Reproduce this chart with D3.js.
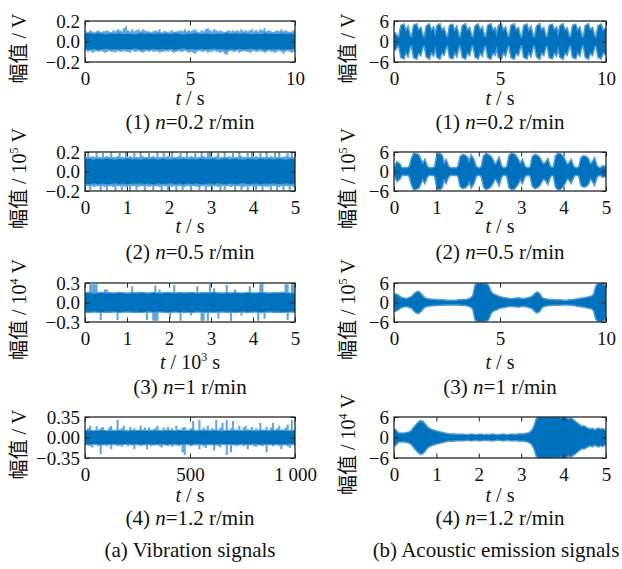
<!DOCTYPE html>
<html><head><meta charset="utf-8">
<script src="https://cdn.jsdelivr.net/npm/d3@7"></script>
<style>
body{margin:0;background:#fff}
svg{display:block}
text{font-family:"Liberation Serif","Times New Roman","Noto Sans CJK SC",serif;fill:#111}
</style>
</head><body>
<svg id="c" width="622" height="569"></svg>
<script>
// ---------- tick labels ----------
const ticks10 = [0, 5, 10];
const ticks10Labels = ["0", "5", "10"];
const ticks5 = [0, 1, 2, 3, 4, 5];
const ticks5Labels = ["0", "1", "2", "3", "4", "5"];
const ticks1000 = [0, 500, 1000];
const ticks1000Labels = ["0", "500", "1 000"];
const yTicks02 = [-0.2, 0, 0.2];
const yTicks02Labels = ["\u22120.2", "0.0", "0.2"];
const yTicks03 = [-0.3, 0, 0.3];
const yTicks03Labels = ["\u22120.3", "0.0", "0.3"];
const yTicks035 = [-0.35, 0, 0.35];
const yTicks035Labels = ["\u22120.35", "0.00", "0.35"];
const yTicks6 = [-6, 0, 6];
const yTicks6Labels = ["\u22126", "0", "6"];

// ---------- captions ----------
const speeds = ["0.2", "0.5", "1", "1.2"];
const groupTitles = ["(a) Vibration signals", "(b) Acoustic emission signals"];

// ---------- vibration signals: spike extents (hi / lo) and dense core amplitude ----------
const vib1Hi = [0.10,0.09,0.11,0.10,0.09,0.10,0.11,0.09,0.10,0.10, 0.11,0.10,0.09,0.11,0.10,0.12,0.11,0.10,0.13,0.15, 0.11,0.10,0.12,0.10,0.11,0.12,0.10,0.12,0.11,0.10, 0.10,0.09,0.10,0.11,0.10,0.12,0.09,0.10,0.10,0.09, 0.10,0.11,0.09,0.10,0.10,0.11,0.10,0.12,0.10,0.11, 0.10,0.11,0.12,0.10,0.09,0.11,0.10,0.12,0.13,0.11, 0.10,0.12,0.11,0.10,0.11,0.10,0.09,0.10,0.11,0.10, 0.11,0.10,0.11,0.10,0.12,0.10,0.11,0.10,0.11,0.12, 0.10,0.11,0.10,0.12,0.11,0.13,0.10,0.11,0.10,0.09, 0.10,0.11,0.10,0.12,0.10,0.11,0.10,0.09,0.10,0.11];
const vib1Lo = [-0.09,-0.10,-0.09,-0.11,-0.10,-0.09,-0.10,-0.09,-0.10,-0.11, -0.10,-0.09,-0.10,-0.10,-0.11,-0.09,-0.10,-0.10,-0.09,-0.10, -0.10,-0.11,-0.09,-0.10,-0.10,-0.09,-0.10,-0.11,-0.10,-0.09, -0.10,-0.09,-0.10,-0.10,-0.09,-0.11,-0.10,-0.10,-0.09,-0.10, -0.09,-0.10,-0.11,-0.10,-0.09,-0.10,-0.10,-0.09,-0.10,-0.11, -0.10,-0.11,-0.12,-0.10,-0.09,-0.10,-0.10,-0.09,-0.11,-0.10, -0.10,-0.09,-0.10,-0.10,-0.11,-0.10,-0.12,-0.13,-0.10,-0.09, -0.10,-0.10,-0.09,-0.11,-0.10,-0.09,-0.10,-0.10,-0.11,-0.10, -0.09,-0.10,-0.10,-0.09,-0.10,-0.11,-0.10,-0.09,-0.10,-0.10, -0.11,-0.10,-0.09,-0.10,-0.12,-0.10,-0.09,-0.10,-0.11,-0.10];
const vib1Core = [0.072,0.078,0.070,0.080,0.074,0.068,0.076,0.072,0.079,0.071, 0.075,0.070,0.068,0.080,0.073,0.077,0.071,0.079,0.072,0.076, 0.070,0.080,0.073,0.067,0.076,0.072,0.079,0.070,0.075,0.073, 0.068,0.076,0.071,0.080,0.072,0.077,0.070,0.079,0.073,0.068, 0.076,0.071,0.080,0.072,0.075,0.070,0.079,0.073,0.076,0.071];

const vib2Hi = [0.15,0.19,0.15,0.16,0.15,0.2,0.15,0.15,0.19,0.15, 0.16,0.15,0.2,0.15,0.15,0.16,0.19,0.15,0.15,0.2, 0.15,0.16,0.15,0.19,0.15,0.15,0.2,0.16,0.15,0.15, 0.19,0.15,0.16,0.15,0.2,0.15,0.15,0.19,0.15,0.16, 0.15,0.2,0.15,0.15,0.16,0.19,0.15,0.15,0.2,0.15, 0.16,0.15,0.19,0.15,0.15,0.2,0.16,0.15,0.19,0.2, 0.15,0.15,0.16,0.19,0.15,0.15,0.2,0.15,0.16,0.15, 0.19,0.15,0.15,0.2,0.16,0.15,0.15,0.19,0.15,0.2, 0.15,0.16,0.15,0.19,0.15,0.15,0.2,0.15,0.16,0.15, 0.19,0.15,0.2,0.15,0.15,0.16,0.19,0.15,0.2,0.15];
const vib2Lo = [-0.15,-0.15,-0.19,-0.15,-0.16,-0.15,-0.15,-0.2,-0.15,-0.16, -0.19,-0.15,-0.15,-0.16,-0.2,-0.15,-0.15,-0.19,-0.15,-0.16, -0.15,-0.2,-0.15,-0.15,-0.19,-0.16,-0.15,-0.15,-0.2,-0.15, -0.16,-0.15,-0.19,-0.15,-0.15,-0.16,-0.2,-0.15,-0.15,-0.19, -0.15,-0.16,-0.15,-0.2,-0.15,-0.15,-0.19,-0.16,-0.15,-0.15, -0.2,-0.15,-0.15,-0.16,-0.19,-0.15,-0.15,-0.2,-0.16,-0.15, -0.19,-0.15,-0.15,-0.16,-0.2,-0.15,-0.19,-0.15,-0.15,-0.16, -0.15,-0.2,-0.15,-0.15,-0.19,-0.16,-0.15,-0.2,-0.15,-0.15, -0.16,-0.19,-0.15,-0.15,-0.2,-0.15,-0.16,-0.15,-0.19,-0.15, -0.15,-0.2,-0.16,-0.15,-0.19,-0.15,-0.15,-0.2,-0.15,-0.16];
const vib2Core = [0.125,0.130,0.120,0.128,0.122,0.130,0.125,0.120,0.128,0.124, 0.130,0.122,0.126,0.120,0.129,0.124,0.130,0.121,0.127,0.125, 0.120,0.129,0.124,0.130,0.122,0.127,0.121,0.130,0.125,0.123, 0.128,0.120,0.126,0.130,0.122,0.128,0.124,0.120,0.129,0.125, 0.122,0.130,0.124,0.127,0.121,0.129,0.125,0.120,0.128,0.124];

const vib3Hi = [0.15,0.15,0.28,0.28,0.28,0.28,0.15,0.15,0.15,0.2, 0.2,0.15,0.15,0.15,0.15,0.15,0.15,0.15,0.15,0.15, 0.15,0.15,0.25,0.15,0.15,0.15,0.15,0.15,0.15,0.15, 0.15,0.15,0.15,0.26,0.15,0.2,0.15,0.15,0.15,0.15, 0.15,0.15,0.27,0.15,0.15,0.15,0.15,0.15,0.15,0.15, 0.15,0.15,0.15,0.25,0.15,0.15,0.15,0.15,0.15,0.28, 0.15,0.22,0.15,0.15,0.15,0.15,0.15,0.27,0.15,0.15, 0.15,0.2,0.15,0.15,0.15,0.15,0.15,0.15,0.25,0.15, 0.15,0.15,0.15,0.28,0.3,0.15,0.15,0.15,0.15,0.15, 0.15,0.15,0.15,0.15,0.15,0.28,0.28,0.15,0.28,0.28];
const vib3Lo = [-0.15,-0.15,-0.15,-0.15,-0.15,-0.15,-0.15,-0.27,-0.15,-0.15, -0.15,-0.15,-0.15,-0.15,-0.15,-0.27,-0.15,-0.15,-0.15,-0.15, -0.15,-0.15,-0.15,-0.15,-0.15,-0.15,-0.15,-0.15,-0.15,-0.27, -0.15,-0.15,-0.28,-0.28,-0.28,-0.15,-0.15,-0.15,-0.15,-0.15, -0.25,-0.15,-0.15,-0.15,-0.15,-0.28,-0.15,-0.15,-0.15,-0.15, -0.2,-0.15,-0.15,-0.15,-0.15,-0.28,-0.28,-0.15,-0.28,-0.15, -0.15,-0.15,-0.15,-0.25,-0.15,-0.15,-0.15,-0.15,-0.15,-0.28, -0.15,-0.15,-0.15,-0.15,-0.2,-0.15,-0.15,-0.15,-0.15,-0.15, -0.15,-0.15,-0.28,-0.15,-0.15,-0.25,-0.15,-0.15,-0.15,-0.15, -0.15,-0.15,-0.15,-0.15,-0.15,-0.15,-0.27,-0.15,-0.15,-0.15];
const vib3Core = [0.140,0.145,0.136,0.142,0.148,0.138,0.143,0.137,0.146,0.140, 0.135,0.144,0.139,0.147,0.141,0.136,0.145,0.140,0.138,0.146, 0.142,0.137,0.145,0.139,0.143,0.148,0.136,0.141,0.144,0.138, 0.146,0.140,0.135,0.143,0.139,0.147,0.141,0.137,0.145,0.140, 0.138,0.146,0.142,0.136,0.144,0.139,0.147,0.141,0.137,0.143];

const vib4Hi = [0.13,0.16,0.2,0.13,0.13,0.2,0.13,0.16,0.18,0.13, 0.13,0.17,0.2,0.13,0.13,0.3,0.13,0.16,0.2,0.13, 0.13,0.18,0.13,0.16,0.13,0.13,0.2,0.13,0.17,0.13, 0.17,0.13,0.13,0.16,0.2,0.13,0.13,0.17,0.13,0.18, 0.13,0.16,0.13,0.2,0.13,0.13,0.17,0.18,0.13,0.13, 0.16,0.28,0.13,0.13,0.3,0.13,0.17,0.13,0.2,0.13, 0.16,0.13,0.3,0.13,0.17,0.25,0.13,0.3,0.13,0.16, 0.28,0.13,0.13,0.2,0.13,0.17,0.2,0.13,0.13,0.18, 0.13,0.16,0.13,0.25,0.13,0.13,0.18,0.13,0.17,0.25, 0.13,0.16,0.2,0.13,0.13,0.17,0.22,0.13,0.3,0.13];
const vib4Lo = [-0.12,-0.12,-0.15,-0.17,-0.12,-0.12,-0.15,-0.28,-0.12,-0.12, -0.15,-0.12,-0.2,-0.12,-0.12,-0.15,-0.12,-0.16,-0.12,-0.12, -0.15,-0.12,-0.12,-0.2,-0.12,-0.12,-0.15,-0.12,-0.12,-0.2, -0.12,-0.15,-0.12,-0.12,-0.12,-0.15,-0.17,-0.12,-0.12,-0.15, -0.12,-0.16,-0.12,-0.12,-0.15,-0.12,-0.25,-0.3,-0.12,-0.12, -0.15,-0.12,-0.12,-0.12,-0.2,-0.12,-0.15,-0.18,-0.12,-0.12, -0.12,-0.22,-0.12,-0.15,-0.17,-0.12,-0.12,-0.3,-0.12,-0.25, -0.12,-0.12,-0.15,-0.12,-0.12,-0.15,-0.12,-0.2,-0.12,-0.12, -0.15,-0.16,-0.12,-0.12,-0.15,-0.12,-0.25,-0.12,-0.12,-0.15, -0.12,-0.12,-0.15,-0.2,-0.12,-0.12,-0.15,-0.18,-0.12,-0.12];
const vib4Core = [0.110,0.115,0.105,0.112,0.118,0.108,0.113,0.106,0.116,0.110, 0.104,0.114,0.109,0.117,0.111,0.106,0.115,0.110,0.108,0.116, 0.112,0.107,0.115,0.109,0.113,0.118,0.106,0.111,0.114,0.108, 0.116,0.110,0.105,0.113,0.109,0.117,0.111,0.107,0.115,0.110, 0.108,0.116,0.112,0.106,0.114,0.109,0.117,0.111,0.107,0.113];

// ---------- acoustic emission signals: envelope amplitude ----------
const ae1Amp = [2.3,1.3,1.1,4.5,4.8,2.8,3.9,1.3,1.1,4.6, 4.9,3.0,3.7,1.3,1.0,4.4,4.8,2.9,3.8,1.2, 4.5,4.9,3.1,3.6,1.3,1.1,4.6,4.8,2.8,3.9, 1.2,1.1,4.5,4.9,3.0,3.7,1.3,1.0,4.4,4.8, 2.9,3.8,1.3,1.1,4.6,4.9,3.0,3.6,1.2,4.5, 4.8,2.9,3.8,1.3,1.1,4.6,4.9,3.1,3.7,1.2, 1.1,4.5,4.8,2.8,3.9,1.3,1.0,4.4,4.9,3.0, 3.7,1.3,1.1,4.6,4.8,2.9,3.8,1.2,4.5,4.9, 3.0,3.6,1.3,1.1,4.6,4.8,2.9,3.8,1.2,1.1, 4.5,4.9,3.1,3.7,1.3,1.1,4.4,4.8,3.0,3.6];
const ae2Amp = [1.2,2.7,2.2,1.0,0.9,1.0,0.9,1.5,4.0,5.4, 5.2,5.0,3.5,2.0,3.2,1.5,1.0,0.9,1.0,1.4, 5.0,5.4,4.8,2.0,3.2,1.5,1.0,0.9,1.0,0.9, 1.5,4.5,5.0,4.8,4.2,2.5,4.6,3.5,1.4,1.0, 0.9,1.5,4.6,5.3,5.0,4.5,3.5,2.0,2.5,3.8, 1.5,1.0,0.9,1.4,4.8,5.4,5.2,4.6,3.5,2.0, 3.2,1.5,1.0,0.9,1.3,4.4,5.0,4.8,4.2,3.0, 2.0,2.5,3.5,1.5,1.0,1.3,4.8,5.4,5.2,4.5, 3.5,2.0,2.2,3.2,1.5,1.0,0.9,1.4,4.2,4.6, 4.4,3.8,2.0,2.5,3.7,1.6,1.1,1.0,1.5,1.4];
const ae3Amp = [2.5,2.2,1.8,1.3,1.2,1.0,1.1,1.4,1.6,2.4, 3.0,3.2,2.6,1.8,1.2,1.0,0.9,0.8,0.8,0.7, 0.7,0.6,0.6,0.6,0.5,0.5,0.5,0.5,0.5,0.5, 0.6,0.6,0.7,0.7,0.8,1.0,1.3,2.0,5.2,5.8, 5.6,5.8,5.5,5.6,5.0,3.2,2.6,2.2,2.0,1.6, 1.5,1.3,1.2,1.1,1.0,1.0,1.0,1.1,1.2,1.1, 1.0,1.0,1.1,1.3,1.5,1.8,2.5,3.0,2.6,1.5, 1.0,0.9,0.8,0.7,0.7,0.6,0.6,0.6,0.6,0.5, 0.5,0.5,0.6,0.6,0.7,0.8,0.9,1.0,1.1,1.2, 1.3,1.5,1.6,1.8,2.5,5.0,5.6,5.8,5.5,5.0];
const ae4Amp = [2.2,1.5,1.0,1.1,1.0,1.2,1.3,1.5,2.0,2.8, 3.5,4.2,4.7,4.5,3.8,3.0,2.5,2.2,2.0,1.8, 1.6,1.5,1.3,1.2,1.0,0.9,0.8,0.9,0.8,0.7, 0.8,0.7,0.8,0.7,0.6,0.7,0.8,0.7,0.6,0.7, 0.8,0.7,0.6,0.7,0.6,0.7,0.8,0.7,0.6,0.6, 0.7,0.8,0.7,0.6,0.7,0.8,0.7,0.7,0.8,0.9, 0.8,0.9,1.0,1.2,1.5,2.2,3.5,5.5,6.0,6.0, 5.8,6.0,6.0,5.9,6.0,5.8,6.0,6.0,5.5,5.8, 6.0,5.5,5.2,5.5,5.0,4.5,4.0,3.5,3.0,3.2, 2.8,2.5,2.2,2.5,2.0,2.3,2.5,2.2,2.4,2.0];

// ---------- layout / style ----------
const DARK = "#0072BD", FRINGE = "#4f9bd7", LIGHT = "#62a7de", AXIS = "#262626";
const TICK = 4.5;
const cols = [{x0: 85, x1: 295}, {x0: 394, x1: 606}];
const rows = [
  {y0: 21, y1: 62, xl: 105, cap: 129},
  {y0: 152, y1: 191, xl: 233, cap: 259},
  {y0: 283, y1: 322, xl: 369, cap: 394},
  {y0: 417, y1: 458, xl: 502, cap: 525}
];
const yLabX = [19, 348];

const panels = [
  {col:0,row:0,kind:"vib",xDom:[0,10],xT:ticks10,xTL:ticks10Labels,yDom:[-0.2,0.2],yT:yTicks02,yTL:yTicks02Labels,hi:vib1Hi,lo:vib1Lo,core:vib1Core,yExp:null,xExp:null},
  {col:0,row:1,kind:"vib",xDom:[0,5],xT:ticks5,xTL:ticks5Labels,yDom:[-0.2,0.2],yT:yTicks02,yTL:yTicks02Labels,hi:vib2Hi,lo:vib2Lo,core:vib2Core,yExp:"5",xExp:null},
  {col:0,row:2,kind:"vib",xDom:[0,5],xT:ticks5,xTL:ticks5Labels,yDom:[-0.3,0.3],yT:yTicks03,yTL:yTicks03Labels,hi:vib3Hi,lo:vib3Lo,core:vib3Core,yExp:"4",xExp:"3"},
  {col:0,row:3,kind:"vib",xDom:[0,1000],xT:ticks1000,xTL:ticks1000Labels,yDom:[-0.35,0.35],yT:yTicks035,yTL:yTicks035Labels,hi:vib4Hi,lo:vib4Lo,core:vib4Core,yExp:null,xExp:null},
  {col:1,row:0,kind:"ae",xDom:[0,10],xT:ticks10,xTL:ticks10Labels,yDom:[-6,6],yT:yTicks6,yTL:yTicks6Labels,amp:ae1Amp,yExp:null,xExp:null},
  {col:1,row:1,kind:"ae",xDom:[0,5],xT:ticks5,xTL:ticks5Labels,yDom:[-6,6],yT:yTicks6,yTL:yTicks6Labels,amp:ae2Amp,yExp:"5",xExp:null},
  {col:1,row:2,kind:"ae",xDom:[0,10],xT:ticks10,xTL:ticks10Labels,yDom:[-6,6],yT:yTicks6,yTL:yTicks6Labels,amp:ae3Amp,yExp:"5",xExp:null},
  {col:1,row:3,kind:"ae",xDom:[0,5],xT:ticks5,xTL:ticks5Labels,yDom:[-6,6],yT:yTicks6,yTL:yTicks6Labels,amp:ae4Amp,yExp:"4",xExp:null}
];

const svg = d3.select("#c");
const defs = svg.append("defs");

function styleAxis(g){
  g.select(".domain").remove();
  g.attr("color", AXIS).attr("font-family", null).attr("font-size", null);
  g.selectAll("line").attr("stroke-width", 1);
  g.selectAll("text").attr("font-size", 19).attr("fill", "#111");
}

panels.forEach((p, k) => {
  const c = cols[p.col], r = rows[p.row];
  const x = d3.scaleLinear().domain(p.xDom).range([c.x0, c.x1]);
  const y = d3.scaleLinear().domain(p.yDom).range([r.y1, r.y0]);
  const clipId = "clip" + k;
  defs.append("clipPath").attr("id", clipId).append("rect")
    .attr("x", c.x0).attr("y", r.y0).attr("width", c.x1 - c.x0).attr("height", r.y1 - r.y0);
  const g = svg.append("g").attr("clip-path", `url(#${clipId})`);
  const span = p.xDom[1] - p.xDom[0];

  if (p.kind === "vib") {
    const n = p.hi.length, step = span / n;
    const pts = p.hi.map((h, i) => ({t: p.xDom[0] + i * step, h: h, l: p.lo[i]}));
    pts.push({t: p.xDom[1], h: p.hi[n - 1], l: p.lo[n - 1]});
    const spikes = d3.area().x(d => x(d.t)).y0(d => y(d.l)).y1(d => y(d.h)).curve(d3.curveStepAfter);
    g.append("path").attr("d", spikes(pts)).attr("fill", LIGHT);
    const m = p.core.length, st = span / (m - 1);
    const cp = p.core.map((a, i) => ({t: p.xDom[0] + i * st, a: a}));
    const ca = d3.area().x(d => x(d.t)).y0(d => y(-d.a)).y1(d => y(d.a));
    g.append("path").attr("d", ca(cp)).attr("fill", DARK).attr("stroke", FRINGE).attr("stroke-width", 2.4);
    g.append("path").attr("d", ca(cp)).attr("fill", DARK);
  } else {
    const n = p.amp.length, step = span / n;
    const pts = p.amp.map((a, i) => ({t: p.xDom[0] + (i + 0.5) * step, a: a}));
    pts.unshift({t: p.xDom[0], a: p.amp[0]});
    pts.push({t: p.xDom[1], a: p.amp[n - 1]});
    const env = d3.area().x(d => x(d.t)).y0(d => y(-d.a)).y1(d => y(d.a));
    g.append("path").attr("d", env(pts)).attr("fill", DARK).attr("stroke", FRINGE).attr("stroke-width", 3);
    g.append("path").attr("d", env(pts)).attr("fill", DARK);
  }

  // axes (inward ticks, all four sides)
  const fmtX = d => p.xTL[p.xT.indexOf(d)];
  const fmtY = d => p.yTL[p.yT.indexOf(d)];
  svg.append("g").attr("transform", `translate(0,${r.y1})`)
    .call(d3.axisBottom(x).tickValues(p.xT).tickFormat(fmtX).tickSize(-TICK).tickPadding(9.5)).call(styleAxis);
  svg.append("g").attr("transform", `translate(0,${r.y0})`)
    .call(d3.axisTop(x).tickValues(p.xT).tickFormat("").tickSize(-TICK)).call(styleAxis);
  svg.append("g").attr("transform", `translate(${c.x0},0)`)
    .call(d3.axisLeft(y).tickValues(p.yT).tickFormat(fmtY).tickSize(-TICK).tickPadding(5)).call(styleAxis);
  svg.append("g").attr("transform", `translate(${c.x1},0)`)
    .call(d3.axisRight(y).tickValues(p.yT).tickFormat("").tickSize(-TICK)).call(styleAxis);

  svg.append("rect").attr("x", c.x0).attr("y", r.y0).attr("width", c.x1 - c.x0).attr("height", r.y1 - r.y0)
    .attr("fill", "none").attr("stroke", AXIS).attr("stroke-width", 1.3);

  const cx = (c.x0 + c.x1) / 2, cy = (r.y0 + r.y1) / 2;

  // y label
  const yl = svg.append("text").attr("transform", `translate(${yLabX[p.col]},${cy + 7}) rotate(-90)`)
    .attr("text-anchor", "middle").attr("dy", "0.35em").attr("font-size", 20);
  if (p.yExp) {
    yl.append("tspan").text("幅值 / 10");
    yl.append("tspan").attr("font-size", 12).attr("dy", -8).text(p.yExp);
    yl.append("tspan").attr("dy", 8).text(" V");
  } else {
    yl.append("tspan").text("幅值 / V");
  }

  // x label
  const xl = svg.append("text").attr("x", cx).attr("y", r.xl).attr("text-anchor", "middle").attr("font-size", 20);
  xl.append("tspan").attr("font-style", "italic").text("t");
  if (p.xExp) {
    xl.append("tspan").text(" / 10");
    xl.append("tspan").attr("font-size", 12).attr("dy", -8).text(p.xExp);
    xl.append("tspan").attr("dy", 8).text(" s");
  } else {
    xl.append("tspan").text(" / s");
  }

  // caption
  const cap = svg.append("text").attr("x", cx).attr("y", r.cap).attr("text-anchor", "middle").attr("font-size", 21);
  cap.append("tspan").text(`(${p.row + 1}) `);
  cap.append("tspan").attr("font-style", "italic").text("n");
  cap.append("tspan").text(`=${speeds[p.row]} r/min`);
});

svg.append("text").attr("x", 190).attr("y", 557).attr("text-anchor", "middle").attr("font-size", 21).text(groupTitles[0]);
svg.append("text").attr("x", 496).attr("y", 557).attr("text-anchor", "middle").attr("font-size", 21).text(groupTitles[1]);
</script>
</body></html>
